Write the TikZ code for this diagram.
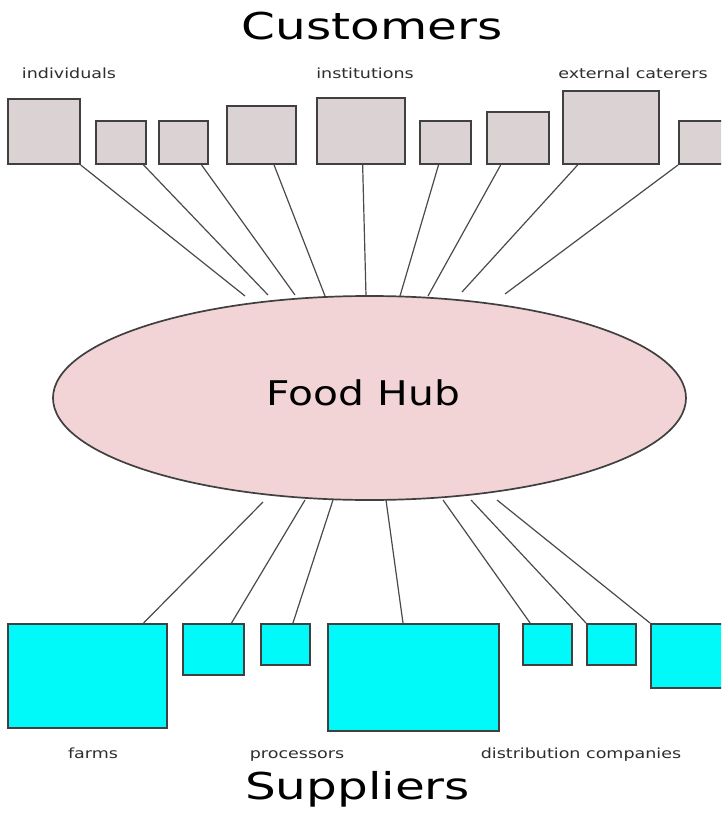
\documentclass[tikz,border=0pt]{standalone}
\usepackage{fontspec}
\setmainfont{DejaVu Sans}
\newfontfamily\titlefont[FakeStretch=1.31]{DejaVu Sans}
\newfontfamily\hubfont[FakeStretch=1.2]{DejaVu Sans}
\newfontfamily\labelfont[FakeStretch=1.25]{DejaVu Sans}
\usetikzlibrary{calc,shapes.geometric}

\definecolor{boxline}{HTML}{404040}
\definecolor{linkgray}{HTML}{4A4A4A}
\definecolor{custfill}{HTML}{DAD2D3}
\definecolor{suppfill}{HTML}{00FAFA}
\definecolor{hubfill}{HTML}{F2D4D7}
\definecolor{labelgray}{HTML}{2E2E2E}

\tikzset{
  custbox/.style={draw=boxline, fill=custfill, line width=1.7pt, inner sep=0pt, anchor=south west},
  suppbox/.style={draw=boxline, fill=suppfill, line width=1.7pt, inner sep=0pt, anchor=north west},
  link/.style={draw=linkgray, line width=1.2pt},
  grouplabel/.style={font=\labelfont\fontsize{14}{16}\selectfont, text=labelgray, anchor=base, inner sep=0pt},
  bigtitle/.style={font=\titlefont\fontsize{37}{44}\selectfont, anchor=base, inner sep=0pt},
  hubshape/.style={ellipse, draw=boxline, fill=hubfill, line width=1.7pt, inner sep=0pt},
}

\begin{document}
\begin{tikzpicture}[x=1pt,y=-1pt]
\useasboundingbox (0,0) rectangle (721,818);
\fill[white] (0,0) rectangle (721,818);
\clip (0,0) rectangle (721,818);

% titles and group labels
\node[bigtitle] (custtitle) at (372,40) {Customers};
\node[bigtitle] (supptitle) at (357.5,799) {Suppliers};
\node[grouplabel] (lindiv) at (69,79) {individuals};
\node[grouplabel] (linst) at (365,79) {institutions};
\node[grouplabel] (lext) at (633,79) {external caterers};
\node[grouplabel] (lfarms) at (93,758) {farms};
\node[grouplabel] (lproc) at (297,758) {processors};
\node[grouplabel] (ldist) at (581,758) {distribution companies};

% the hub
\node[hubshape, minimum width=633pt, minimum height=204pt] (hub) at (369.5,398) {};
\node[font=\hubfont\fontsize{34}{40}\selectfont, anchor=base, inner sep=0pt] (hubtext) at (363.5,405) {Food Hub};

% customer boxes (bottom-left corner, width, height)
\node[custbox, minimum width=72pt, minimum height=65pt] (b1) at (7,165) {};
\node[custbox, minimum width=50pt, minimum height=43pt] (b2) at (95,165) {};
\node[custbox, minimum width=49pt, minimum height=43pt] (b3) at (158,165) {};
\node[custbox, minimum width=69pt, minimum height=58pt] (b4) at (226,165) {};
\node[custbox, minimum width=88pt, minimum height=66pt] (b5) at (316,165) {};
\node[custbox, minimum width=51pt, minimum height=43pt] (b6) at (419,165) {};
\node[custbox, minimum width=62pt, minimum height=52pt] (b7) at (486,165) {};
\node[custbox, minimum width=96pt, minimum height=73pt] (b8) at (562,165) {};
\node[custbox, minimum width=60pt, minimum height=43pt] (b9) at (678,165) {};

% supplier boxes (top-left corner, width, height)
\node[suppbox, minimum width=159pt, minimum height=104pt] (s1) at (7,623) {};
\node[suppbox, minimum width=61pt, minimum height=51pt] (s2) at (182,623) {};
\node[suppbox, minimum width=49pt, minimum height=41pt] (s3) at (260,623) {};
\node[suppbox, minimum width=171pt, minimum height=107pt] (s4) at (327,623) {};
\node[suppbox, minimum width=49pt, minimum height=41pt] (s5) at (522,623) {};
\node[suppbox, minimum width=49pt, minimum height=41pt] (s6) at (586,623) {};
\node[suppbox, minimum width=80pt, minimum height=64pt] (s7) at (650,623) {};

% free ends of the connectors near the hub
\coordinate (h1) at (245,296);
\coordinate (h2) at (268,295);
\coordinate (h3) at (295,295);
\coordinate (h4) at (325,296);
\coordinate (h5) at (366,296);
\coordinate (h6) at (400,296);
\coordinate (h7) at (428,296);
\coordinate (h8) at (462,292);
\coordinate (h9) at (505,294);

\coordinate (g1) at (263,502);
\coordinate (g2) at (305,500);
\coordinate (g3) at (333,500);
\coordinate (g4) at (386,500);
\coordinate (g5) at (443,500);
\coordinate (g6) at (471,500);
\coordinate (g7) at (497,500);

% customer connectors
\draw[link] (b1.south east) -- (h1);
\draw[link] ($(b2.south west)!0.94!(b2.south east)$) -- (h2);
\draw[link] ($(b3.south west)!0.86!(b3.south east)$) -- (h3);
\draw[link] ($(b4.south west)!0.68!(b4.south east)$) -- (h4);
\draw[link] ($(b5.south west)!0.52!(b5.south east)$) -- (h5);
\draw[link] ($(b6.south west)!0.37!(b6.south east)$) -- (h6);
\draw[link] ($(b7.south west)!0.23!(b7.south east)$) -- (h7);
\draw[link] ($(b8.south west)!0.16!(b8.south east)$) -- (h8);
\draw[link] (b9.south west) -- (h9);

% supplier connectors
\draw[link] (g1) -- ($(s1.north west)!0.85!(s1.north east)$);
\draw[link] (g2) -- ($(s2.north west)!0.79!(s2.north east)$);
\draw[link] (g3) -- ($(s3.north west)!0.65!(s3.north east)$);
\draw[link] (g4) -- ($(s4.north west)!0.44!(s4.north east)$);
\draw[link] (g5) -- ($(s5.north west)!0.16!(s5.north east)$);
\draw[link] (g6) -- (s6.north west);
\draw[link] (g7) -- (s7.north west);
\end{tikzpicture}
\end{document}
